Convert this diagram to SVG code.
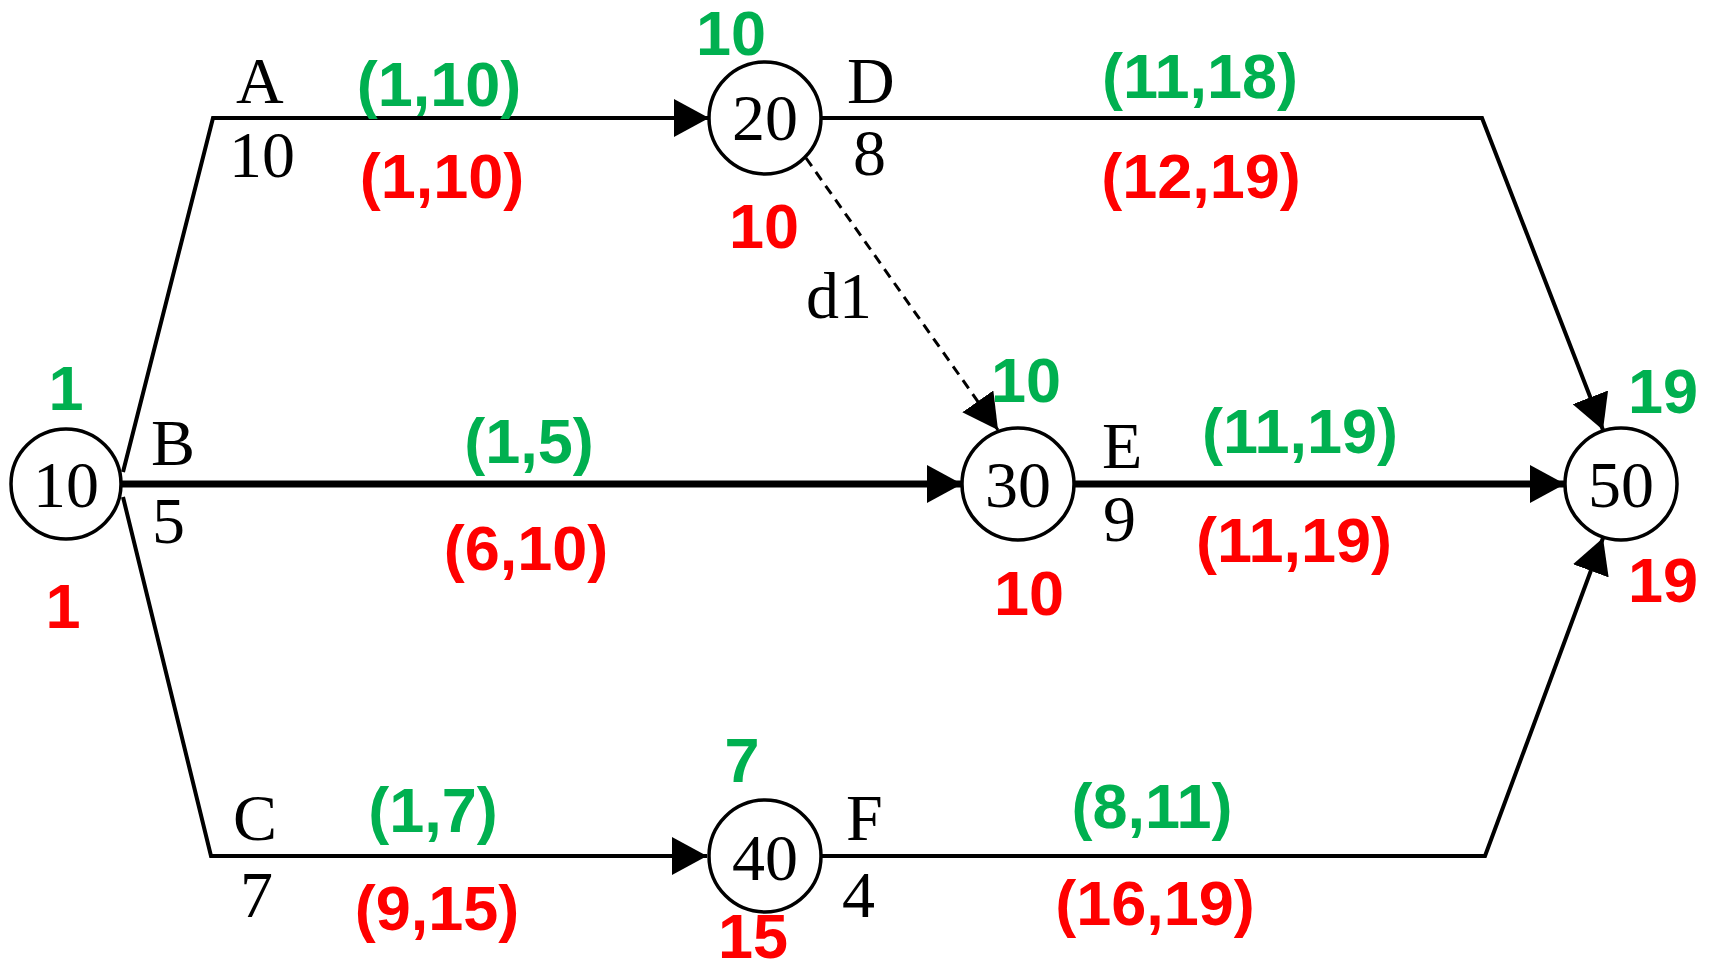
<svg xmlns="http://www.w3.org/2000/svg" width="1713" height="974" viewBox="0 0 1713 974">
<style>
.nd{fill:#fff;stroke:#000;stroke-width:3.5}
.lb{font-family:"Liberation Serif","Times New Roman",serif;font-size:66px;fill:#000}
.g{font-family:"Liberation Sans",Arial,sans-serif;font-weight:bold;font-size:63px;fill:#00b050;text-anchor:middle}
.r{font-family:"Liberation Sans",Arial,sans-serif;font-weight:bold;font-size:63px;fill:#ff0000;text-anchor:middle}
.c{text-anchor:middle}
.e{fill:none;stroke:#000;stroke-width:4;marker-end:url(#ah)}
.et{fill:none;stroke:#000;stroke-width:7;marker-end:url(#ah)}
.ed{fill:none;stroke:#000;stroke-width:3;stroke-dasharray:10 7;marker-end:url(#ah)}
</style>
<defs>
<marker id="ah" markerUnits="userSpaceOnUse" markerWidth="36" markerHeight="38" refX="35" refY="19" orient="auto">
<path d="M0,0 L35,19 L0,38 z" fill="#000"/>
</marker>
</defs>
<rect width="1713" height="974" fill="#fff"/>
<g id="connectors">
<path id="eA" class="e" d="M123,472 L213,118 L709,118"/>
<path id="eB" class="et" d="M122,484 L962,484"/>
<path id="eC" class="e" d="M123,497 L211,856 L707,856"/>
<path id="eD" class="e" d="M821,118 L1482,118 L1603,430"/>
<path id="eE" class="et" d="M1074,484 L1565,484"/>
<path id="eF" class="e" d="M821,856 L1485,856 L1603,538"/>
<path id="ed1" class="ed" d="M806,158 L998,430"/>
</g>
<g id="n10"><circle class="nd" cx="66" cy="484" r="55"/><text class="lb c" x="66" y="507">10</text></g>
<g id="n20"><circle class="nd" cx="765" cy="118" r="56"/><text class="lb c" x="765" y="140">20</text></g>
<g id="n30"><circle class="nd" cx="1018" cy="484" r="56"/><text class="lb c" x="1018" y="507">30</text></g>
<g id="n40"><circle class="nd" cx="765" cy="856" r="56"/><text class="lb c" x="765" y="880">40</text></g>
<g id="n50"><circle class="nd" cx="1621" cy="484" r="56"/><text class="lb c" x="1621" y="507">50</text></g>
<g id="labels">
<text class="lb" x="236" y="103">A</text>
<text class="lb" x="229" y="177">10</text>
<text class="lb" x="847" y="103">D</text>
<text class="lb" x="853" y="175">8</text>
<text class="lb" x="806" y="318">d1</text>
<text class="lb" x="151" y="465">B</text>
<text class="lb" x="152" y="543">5</text>
<text class="lb" x="1102" y="468">E</text>
<text class="lb" x="1103" y="541">9</text>
<text class="lb" x="233" y="840">C</text>
<text class="lb" x="240" y="917">7</text>
<text class="lb" x="846" y="840">F</text>
<text class="lb" x="842" y="917">4</text>
</g>
<g id="times">
<text class="g" x="66" y="410">1</text>
<text class="r" x="63" y="628">1</text>
<text class="g" x="439" y="106">(1,10)</text>
<text class="r" x="442" y="198">(1,10)</text>
<text class="g" x="731" y="55">10</text>
<text class="r" x="764" y="248">10</text>
<text class="g" x="1200" y="98">(11,18)</text>
<text class="r" x="1201" y="198">(12,19)</text>
<text class="g" x="529" y="463">(1,5)</text>
<text class="r" x="526" y="570">(6,10)</text>
<text class="g" x="1026" y="402">10</text>
<text class="r" x="1029" y="615">10</text>
<text class="g" x="1300" y="453">(11,19)</text>
<text class="r" x="1294" y="562">(11,19)</text>
<text class="g" x="1663" y="413">19</text>
<text class="r" x="1663" y="602">19</text>
<text class="g" x="433" y="832">(1,7)</text>
<text class="r" x="437" y="930">(9,15)</text>
<text class="g" x="742" y="782">7</text>
<text class="r" x="753" y="958">15</text>
<text class="g" x="1152" y="828">(8,11)</text>
<text class="r" x="1155" y="925">(16,19)</text>
</g>
</svg>
